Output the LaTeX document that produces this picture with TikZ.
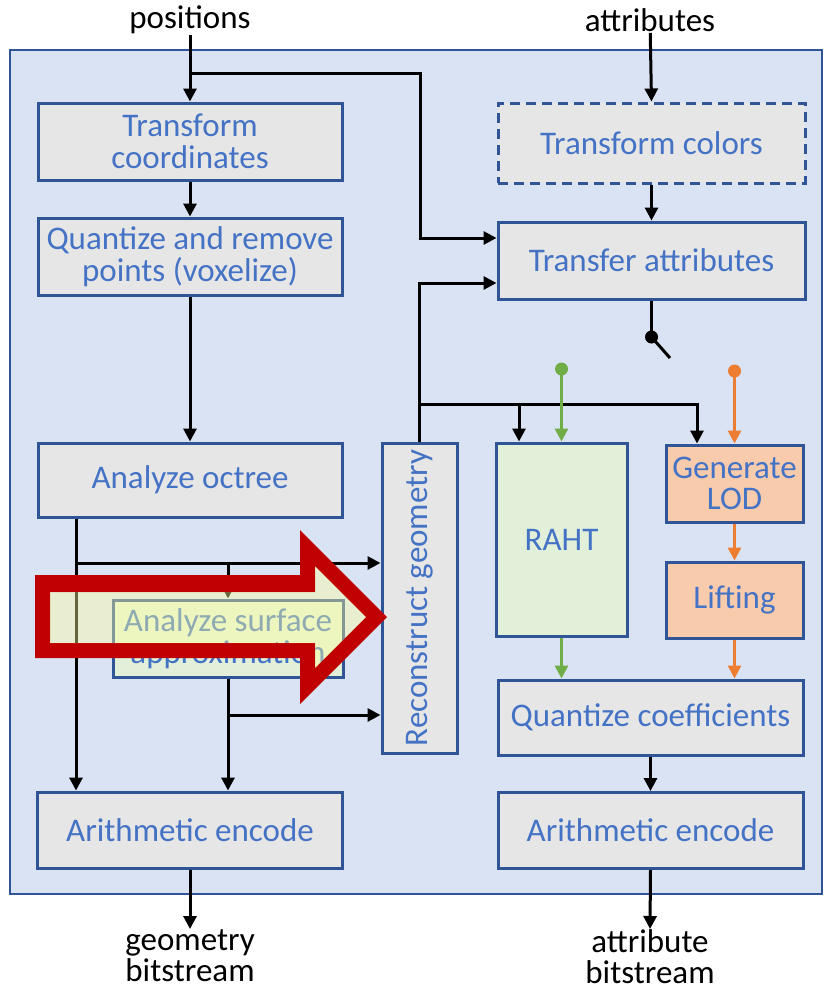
\documentclass[tikz,border=0pt]{standalone}
\usepackage{fontspec}
\setmainfont{Carlito}
\usetikzlibrary{arrows.meta,calc}
\definecolor{bgblue}{HTML}{DAE3F3}
\definecolor{bordblue}{HTML}{2F5597}
\definecolor{txtblue}{HTML}{4472C4}
\definecolor{boxgray}{HTML}{E7E6E6}
\definecolor{lgreen}{HTML}{E2F0D9}
\definecolor{lorange}{HTML}{F8CBAD}
\definecolor{dgreen}{HTML}{70AD47}
\definecolor{dorange}{HTML}{ED7D31}
\definecolor{bigred}{HTML}{C00000}
\definecolor{hiyellow}{HTML}{FFFF99}
\tikzset{
  box/.style={draw=bordblue, line width=3pt, fill=boxgray, text=txtblue,
    align=center, inner sep=0pt, font=\fontsize{33}{31.5}\selectfont},
  lbl/.style={align=center, inner sep=1pt, font=\fontsize{33}{31.5}\selectfont},
  conn/.style={line width=3pt, draw=black},
  arr/.style={conn, -{Triangle[length=13pt,width=13pt]}},
  garr/.style={line width=3pt, draw=dgreen, -{Triangle[length=13pt,width=13pt]}},
  oarr/.style={line width=3pt, draw=dorange, -{Triangle[length=13pt,width=13pt]}},
}
\begin{document}
\begin{tikzpicture}[x=1pt,y=-1pt]
\useasboundingbox (0,0) rectangle (823,990);
\fill[white] (0,0) rectangle (823,990);
\draw[fill=bgblue, draw=bordblue, line width=2.5pt] (10,50) rectangle (822,894);

% labels
\node[lbl] (pos) at (190,20) {positions};
\node[lbl] (att) at (650,20) {attributes};
\node[lbl, anchor=north, inner sep=0pt] (gbs) at (190,929) {geometry\\bitstream};
\node[lbl, anchor=north, inner sep=0pt] (abs) at (650,929) {attribute\\bitstream};

% boxes
\node[box, minimum width=304pt, minimum height=77pt] (tc) at (190,141.5) {Transform\\coordinates};
\node[box, minimum width=304pt, minimum height=77pt] (qz) at (190,256.5) {Quantize and remove\\points (voxelize)};
\node[box, minimum width=304pt, minimum height=74pt] (ao) at (190,480) {Analyze octree};
\node[box, fill=lgreen, minimum width=230pt, minimum height=77pt] (as) at (228,638.5) {Analyze surface\\approximation};
\node[box, minimum width=305pt, minimum height=76pt] (ae1) at (190,830) {Arithmetic encode};
\node[box, minimum width=75pt, minimum height=310pt] (rg) at (419.5,598) {};
\node[lbl, text=txtblue, rotate=90] (rgt) at (rg.center) {Reconstruct geometry};
\node[box, dashed, dash pattern=on 10pt off 6pt, minimum width=307pt, minimum height=80pt] (tcol) at (651.5,143) {Transform colors};
\node[box, minimum width=307pt, minimum height=77pt] (ta) at (651.5,260.5) {Transfer attributes};
\node[box, fill=lgreen, minimum width=131pt, minimum height=193pt] (raht) at (561.5,539.5) {RAHT};
\node[box, fill=lorange, minimum width=137pt, minimum height=77pt] (glod) at (734.5,483.5) {Generate\\LOD};
\node[box, fill=lorange, minimum width=137pt, minimum height=76pt] (lift) at (734.5,600) {Lifting};
\node[box, minimum width=305pt, minimum height=75pt] (qc) at (650.5,717.5) {Quantize coefficients};
\node[box, minimum width=305pt, minimum height=76pt] (ae2) at (650.5,830.5) {Arithmetic encode};

% coordinates
\coordinate (j1) at (190,73);
\coordinate (ta1) at ([yshift=22.5pt]ta.west);
\coordinate (ta2) at ([yshift=-22.5pt]ta.west);
\coordinate (j2) at (419.5,404);
\coordinate (rahtin) at ([xshift=-42.5pt]raht.north);
\coordinate (glodin) at ([xshift=-37.5pt]glod.north);
\coordinate (gdot) at (561.5,369);
\coordinate (odot) at (734.5,371);
\coordinate (sw) at (651.5,337);
\coordinate (swend) at (670,358);
\coordinate (ao1) at ([xshift=-114pt]ao.south);
\coordinate (ae1a) at ([xshift=-114pt]ae1.north);
\coordinate (j3) at (76,563);
\coordinate (j4) at (228,563);
\coordinate (j5) at (228,715);

% connectors
\draw[arr] (pos) -- (tc.north);
\draw[arr] (j1) -| ($(ta1)+(-76,0)$) -- (ta1);
\draw[arr] (tc.south) -- (qz.north);
\draw[arr] (qz.south) -- (ao.north);
\draw[arr] (att) -- (tcol.north);
\draw[arr] (tcol.south) -- (ta.north);
\draw[arr] (rg.north) |- (ta2);
\draw[arr] (j2) -| (rahtin);
\draw[arr] (j2) -| (glodin);
\draw[conn] (ta.south) -- (sw);
\fill (sw) circle (6.5pt);
\draw[conn] (sw) -- (swend);
\fill[dgreen] (gdot) circle (6.5pt);
\draw[garr] (gdot) -- (raht.north);
\fill[dorange] (odot) circle (6.5pt);
\draw[oarr] (odot) -- (glod.north);
\draw[oarr] (glod.south) -- (lift.north);
\draw[garr] (raht.south) -- (raht.south |- qc.north);
\draw[oarr] (lift.south) -- (lift.south |- qc.north);
\draw[arr] (qc.south) -- (ae2.north);
\draw[arr] (ae2.south) -- (abs.north);
\draw[arr] (ae1.south) -- (gbs.north);
\draw[arr] (ao1) -- (ae1a);
\draw[arr] (j3) -- (rg.west |- j3);
\draw[arr] (j4) -- (as.north);
\draw[arr] (as.south) -- (as.south |- ae1.north);
\draw[arr] (j5) -- (rg.west |- j5);

% big highlight arrow
\fill[bigred, even odd rule]
  (35,575) -- (300,575) -- (300,530) -- (387,617) -- (300,704) -- (300,658) -- (35,658) -- cycle
  (50,592) -- (315,592) -- (315,566) -- (366,617) -- (315,668) -- (315,643) -- (50,643) -- cycle;
\fill[hiyellow, opacity=0.4]
  (50,592) -- (315,592) -- (315,566) -- (366,617) -- (315,668) -- (315,643) -- (50,643) -- cycle;
\end{tikzpicture}
\end{document}
